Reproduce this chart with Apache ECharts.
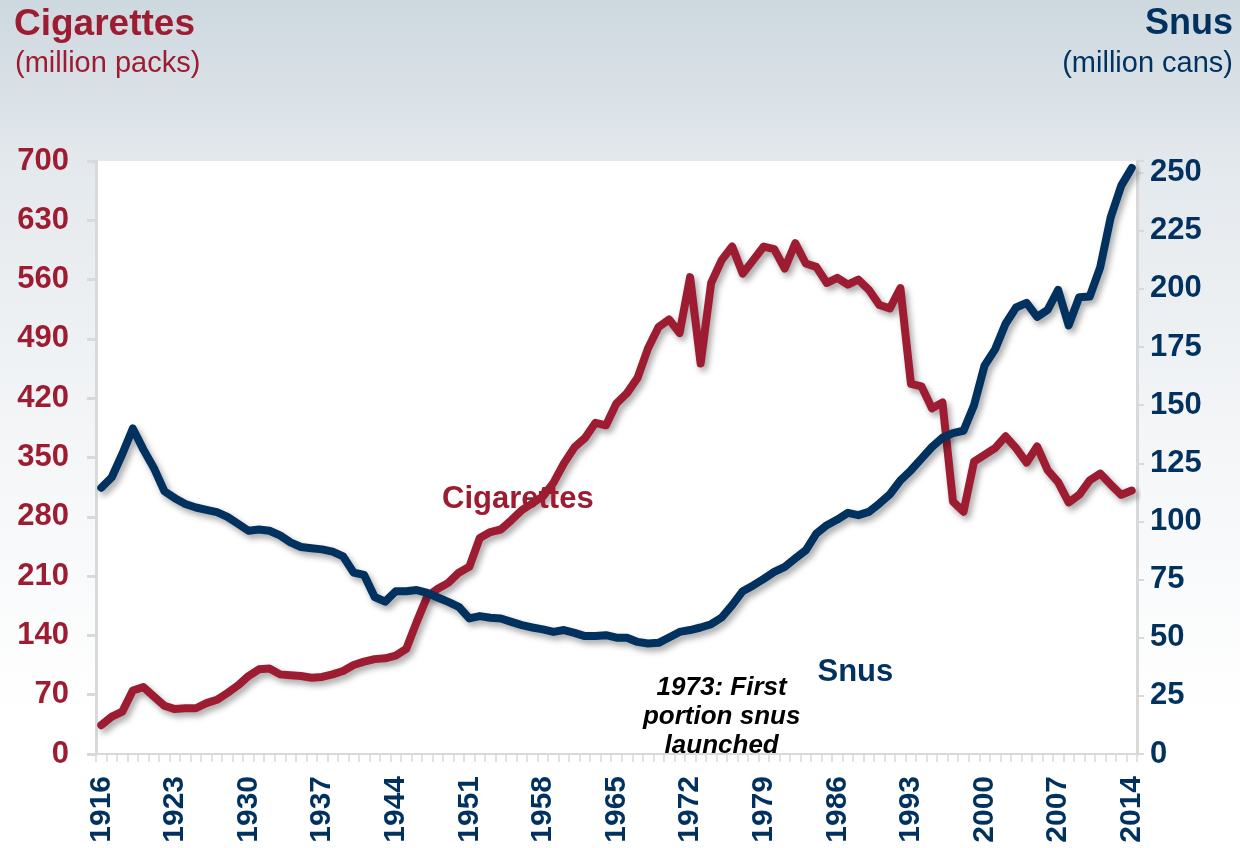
<!DOCTYPE html>
<html>
<head>
    <meta charset="utf-8">
    <title>Cigarettes and snus</title>
    <script src="https://cdn.jsdelivr.net/npm/echarts@6/dist/echarts.min.js"></script>
    <style>
        html, body { margin: 0; padding: 0; }
        #main {
            width: 1240px; height: 848px;
            background: linear-gradient(to bottom, #cdd8df 0%, #e4e9ed 20%, #f3f5f7 50%, #ffffff 85%);
        }
    </style>
</head>
<body>
<div id="main"></div>
<script type="text/javascript">
    // years on the x axis
    var years = [];
    for (var y = 1916; y <= 2014; y++) years.push(String(y));

    // million packs
    var cigarettes = [
        34, 44, 50, 75, 79, 68, 57, 53, 54, 54,
        60, 64, 72, 81, 92, 100, 101, 94, 93, 92,
        90, 91, 94, 98, 105, 109, 112, 113, 116, 124,
        156, 186, 195, 202, 214, 221, 255, 262, 265, 276,
        288, 296, 304, 320, 343, 362, 373, 391, 388, 414,
        426, 444, 479, 504, 513, 497, 563, 461, 556, 583,
        599, 567, 583, 599, 596, 573, 603, 579, 575, 556,
        562, 554, 560, 548, 530, 526, 550, 437, 434, 408,
        415, 298, 286, 345, 353, 361, 375, 361, 344, 363,
        335, 321, 297, 306, 323, 331, 318, 306, 311
    ];

    // million cans
    var snus = [
        114.5, 119, 129, 140, 131, 123, 113, 110, 107.5, 106,
        105, 104, 102, 99, 96, 96.5, 96, 94, 91, 89,
        88.5, 88, 87, 85, 78, 77, 67.5, 65.5, 70, 70,
        70.5, 69.3, 67.3, 65.4, 63.3, 58.3, 59.3, 58.6, 58.3, 56.8,
        55.4, 54.4, 53.6, 52.5, 53.3, 52.1, 50.7, 50.7, 51.1, 50,
        50, 48.2, 47.5, 47.8, 50.1, 52.5, 53.3, 54.4, 55.8, 58.7,
        64, 70, 72.5, 75.3, 78.3, 80.5, 84.1, 87.6, 94.8, 98.4,
        100.8, 103.7, 102.7, 104.1, 107.7, 111.7, 117.7, 122, 127, 132,
        136, 138, 139, 150, 167, 174, 185, 192, 194, 188,
        191, 199.6, 184.3, 196.4, 196.7, 209.3, 230.8, 244.4, 252
    ];

    var RED = '#9d1c31';
    var NAVY = '#00315f';
    var GREY = '#d9d9d9';
    var FONT = '"Liberation Sans", Arial, sans-serif';

    var myChart = echarts.init(document.getElementById('main'), null, {renderer: 'canvas'});

    var lineShadow = {
        shadowColor: 'rgba(0,0,0,0.35)',
        shadowBlur: 6,
        shadowOffsetX: 3,
        shadowOffsetY: 4
    };

    var option = {
        backgroundColor: 'transparent',
        animation: false,
        textStyle: {fontFamily: FONT},
        grid: {
            left: 96, right: 103, top: 161, bottom: 94,
            show: true, backgroundColor: '#ffffff', borderWidth: 0,
            outerBoundsMode: 'none'
        },
        graphic: [
            {type: 'text', left: 14, top: 6, style: {text: 'Cigarettes', fill: RED, font: 'bold 37px ' + FONT}},
            {type: 'text', left: 15, top: 49, style: {text: '(million packs)', fill: RED, font: '29px ' + FONT}},
            {type: 'text', right: 7, top: 6, style: {text: 'Snus', fill: NAVY, font: 'bold 36px ' + FONT}},
            {type: 'text', right: 7, top: 49, style: {text: '(million cans)', fill: NAVY, font: '29px ' + FONT}}
        ],
        xAxis: {
            type: 'category',
            data: years,
            boundaryGap: true,
            axisLine: {lineStyle: {color: GREY, width: 2}},
            axisTick: {show: true, interval: 0, length: 8, lineStyle: {color: GREY, width: 1.5}},
            axisLabel: {
                interval: 6, rotate: 90, margin: 22,
                color: NAVY, fontWeight: 'bold', fontSize: 30, fontFamily: FONT
            },
            splitLine: {show: false}
        },
        yAxis: [
            {
                type: 'value', position: 'left',
                min: 0, max: 700, interval: 70,
                axisLine: {show: true, lineStyle: {color: GREY, width: 3}},
                axisTick: {show: true, length: 9, lineStyle: {color: GREY, width: 3}},
                axisLabel: {margin: 27, color: RED, fontWeight: 'bold', fontSize: 31, fontFamily: FONT},
                splitLine: {show: false}
            },
            {
                type: 'value', position: 'right',
                min: 0, max: 255, interval: 25,
                axisLine: {show: true, lineStyle: {color: GREY, width: 3}},
                axisTick: {show: true, length: 7, lineStyle: {color: GREY, width: 2}},
                axisLabel: {
                    margin: 13, color: NAVY, fontWeight: 'bold', fontSize: 31, fontFamily: FONT,
                    formatter: function (v) { return v % 25 === 0 ? String(v) : ''; }
                },
                splitLine: {show: false}
            }
        ],
        series: [
            {
                name: 'Cigarettes',
                type: 'line',
                yAxisIndex: 0,
                data: cigarettes,
                symbol: 'none',
                lineStyle: Object.assign({color: RED, width: 8, cap: 'round', join: 'round'}, lineShadow),
                itemStyle: {color: RED},
                markPoint: {
                    symbol: 'circle', symbolSize: 0,
                    data: [{
                        coord: ['1956', 300],
                        label: {
                            show: true, position: 'inside', offset: [-4, 0],
                            formatter: 'Cigarettes',
                            color: RED, fontWeight: 'bold', fontSize: 31, fontFamily: FONT
                        }
                    }]
                }
            },
            {
                name: 'Snus',
                type: 'line',
                yAxisIndex: 1,
                data: snus,
                symbol: 'none',
                lineStyle: Object.assign({color: NAVY, width: 8, cap: 'round', join: 'round'}, lineShadow),
                itemStyle: {color: NAVY},
                markPoint: {
                    symbol: 'circle', symbolSize: 0,
                    data: [
                        {
                            coord: ['1988', 35],
                            label: {
                                show: true, position: 'inside', offset: [-3, 0],
                                formatter: 'Snus',
                                color: NAVY, fontWeight: 'bold', fontSize: 31, fontFamily: FONT
                            }
                        },
                        {
                            coord: ['1975', 16],
                            label: {
                                show: true, position: 'inside',
                                formatter: '1973: First\nportion snus\nlaunched',
                                align: 'center', lineHeight: 29,
                                color: '#000000', fontWeight: 'bold', fontStyle: 'italic',
                                fontSize: 26, fontFamily: FONT
                            }
                        }
                    ]
                }
            }
        ]
    };

    myChart.setOption(option);
</script>
</body>
</html>
